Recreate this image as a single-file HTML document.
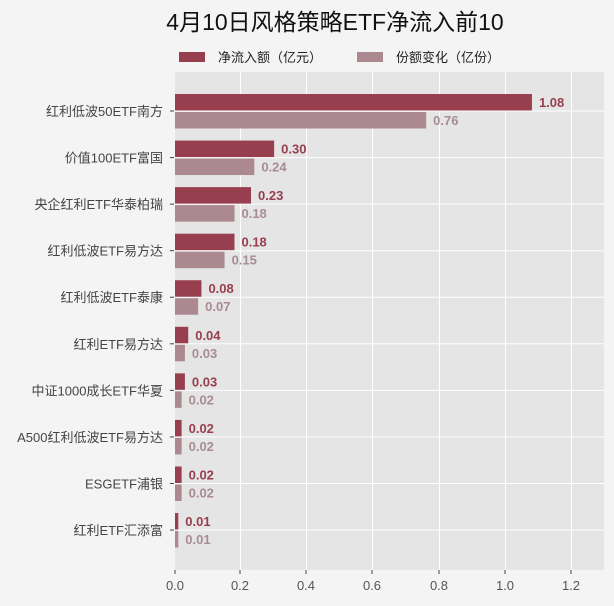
<!DOCTYPE html>
<html><head><meta charset="utf-8"><style>
html,body{margin:0;padding:0;background:#f4f4f4}
svg{display:block;font-family:"Liberation Sans","Noto Sans CJK SC",sans-serif}
</style></head><body>
<svg width="614" height="606" viewBox="0 0 614 606">
<rect width="614" height="606" fill="#f4f4f4"/>
<text x="335" y="30" font-size="23" text-anchor="middle" fill="#111">4月10日风格策略ETF净流入前10</text>
<rect x="179" y="52" width="26" height="10" fill="#983f4f"/>
<text x="218" y="62" font-size="13" fill="#222">净流入额（亿元）</text>
<rect x="357" y="52" width="26" height="10" fill="#ac8891"/>
<text x="396" y="62" font-size="13" fill="#222">份额变化（亿份）</text>
<rect x="175" y="72" width="429" height="498" fill="#e5e5e5"/>
<g stroke="#fff" stroke-width="1">
<line x1="240.5" y1="72" x2="240.5" y2="570"/><line x1="306.5" y1="72" x2="306.5" y2="570"/>
<line x1="372.5" y1="72" x2="372.5" y2="570"/><line x1="439.5" y1="72" x2="439.5" y2="570"/>
<line x1="505.5" y1="72" x2="505.5" y2="570"/><line x1="571.5" y1="72" x2="571.5" y2="570"/>
<line x1="175" y1="111" x2="604" y2="111"/><line x1="175" y1="157.6" x2="604" y2="157.6"/>
<line x1="175" y1="204.1" x2="604" y2="204.1"/><line x1="175" y1="250.7" x2="604" y2="250.7"/>
<line x1="175" y1="297.2" x2="604" y2="297.2"/><line x1="175" y1="343.8" x2="604" y2="343.8"/>
<line x1="175" y1="390.4" x2="604" y2="390.4"/><line x1="175" y1="436.9" x2="604" y2="436.9"/>
<line x1="175" y1="483.5" x2="604" y2="483.5"/><line x1="175" y1="530" x2="604" y2="530"/>
</g>
<g id="bars" font-size="13" font-weight="bold"></g>
<g id="ylab" font-size="13" fill="#444" text-anchor="end"></g>
<g font-size="13" fill="#555" text-anchor="middle">
<text x="175" y="590">0.0</text><text x="240" y="590">0.2</text><text x="306" y="590">0.4</text>
<text x="372" y="590">0.6</text><text x="439" y="590">0.8</text><text x="505" y="590">1.0</text><text x="571" y="590">1.2</text>
</g>
<g stroke="#444"><line x1="175" y1="570" x2="175" y2="574"/><line x1="240" y1="570" x2="240" y2="574"/><line x1="306" y1="570" x2="306" y2="574"/><line x1="372" y1="570" x2="372" y2="574"/><line x1="439" y1="570" x2="439" y2="574"/><line x1="505" y1="570" x2="505" y2="574"/><line x1="571" y1="570" x2="571" y2="574"/></g>
</svg>
<script>
var d=[["红利低波50ETF南方",1.08,0.76],["价值100ETF富国",0.30,0.24],["央企红利ETF华泰柏瑞",0.23,0.18],["红利低波ETF易方达",0.18,0.15],["红利低波ETF泰康",0.08,0.07],["红利ETF易方达",0.04,0.03],["中证1000成长ETF华夏",0.03,0.02],["A500红利低波ETF易方达",0.02,0.02],["ESGETF浦银",0.02,0.02],["红利ETF汇添富",0.01,0.01]];
var ns="http://www.w3.org/2000/svg",b=document.getElementById("bars"),y=document.getElementById("ylab");
function el(t,a,p,tx){var e=document.createElementNS(ns,t);for(var k in a)e.setAttribute(k,a[k]);if(tx!=null)e.textContent=tx;p.appendChild(e);}
var s=330.5;
d.forEach(function(r,i){var c=111+i*46.56;
el("rect",{x:175,y:c-17,width:Math.max(r[1]*s,2),height:16.5,fill:"#983f4f"},b);
el("rect",{x:175,y:c+1,width:Math.max(r[2]*s,2),height:16.5,fill:"#ac8891"},b);
el("text",{x:175+Math.max(r[1]*s,2)+7,y:c-4,fill:"#983f4f"},b,r[1].toFixed(2));
el("text",{x:175+Math.max(r[2]*s,2)+7,y:c+14,fill:"#a88c93"},b,r[2].toFixed(2));
el("text",{x:163,y:c+5},y,r[0]);
el("line",{x1:170,y1:c,x2:174,y2:c,stroke:"#444"},y);
});
</script>
</body></html>
